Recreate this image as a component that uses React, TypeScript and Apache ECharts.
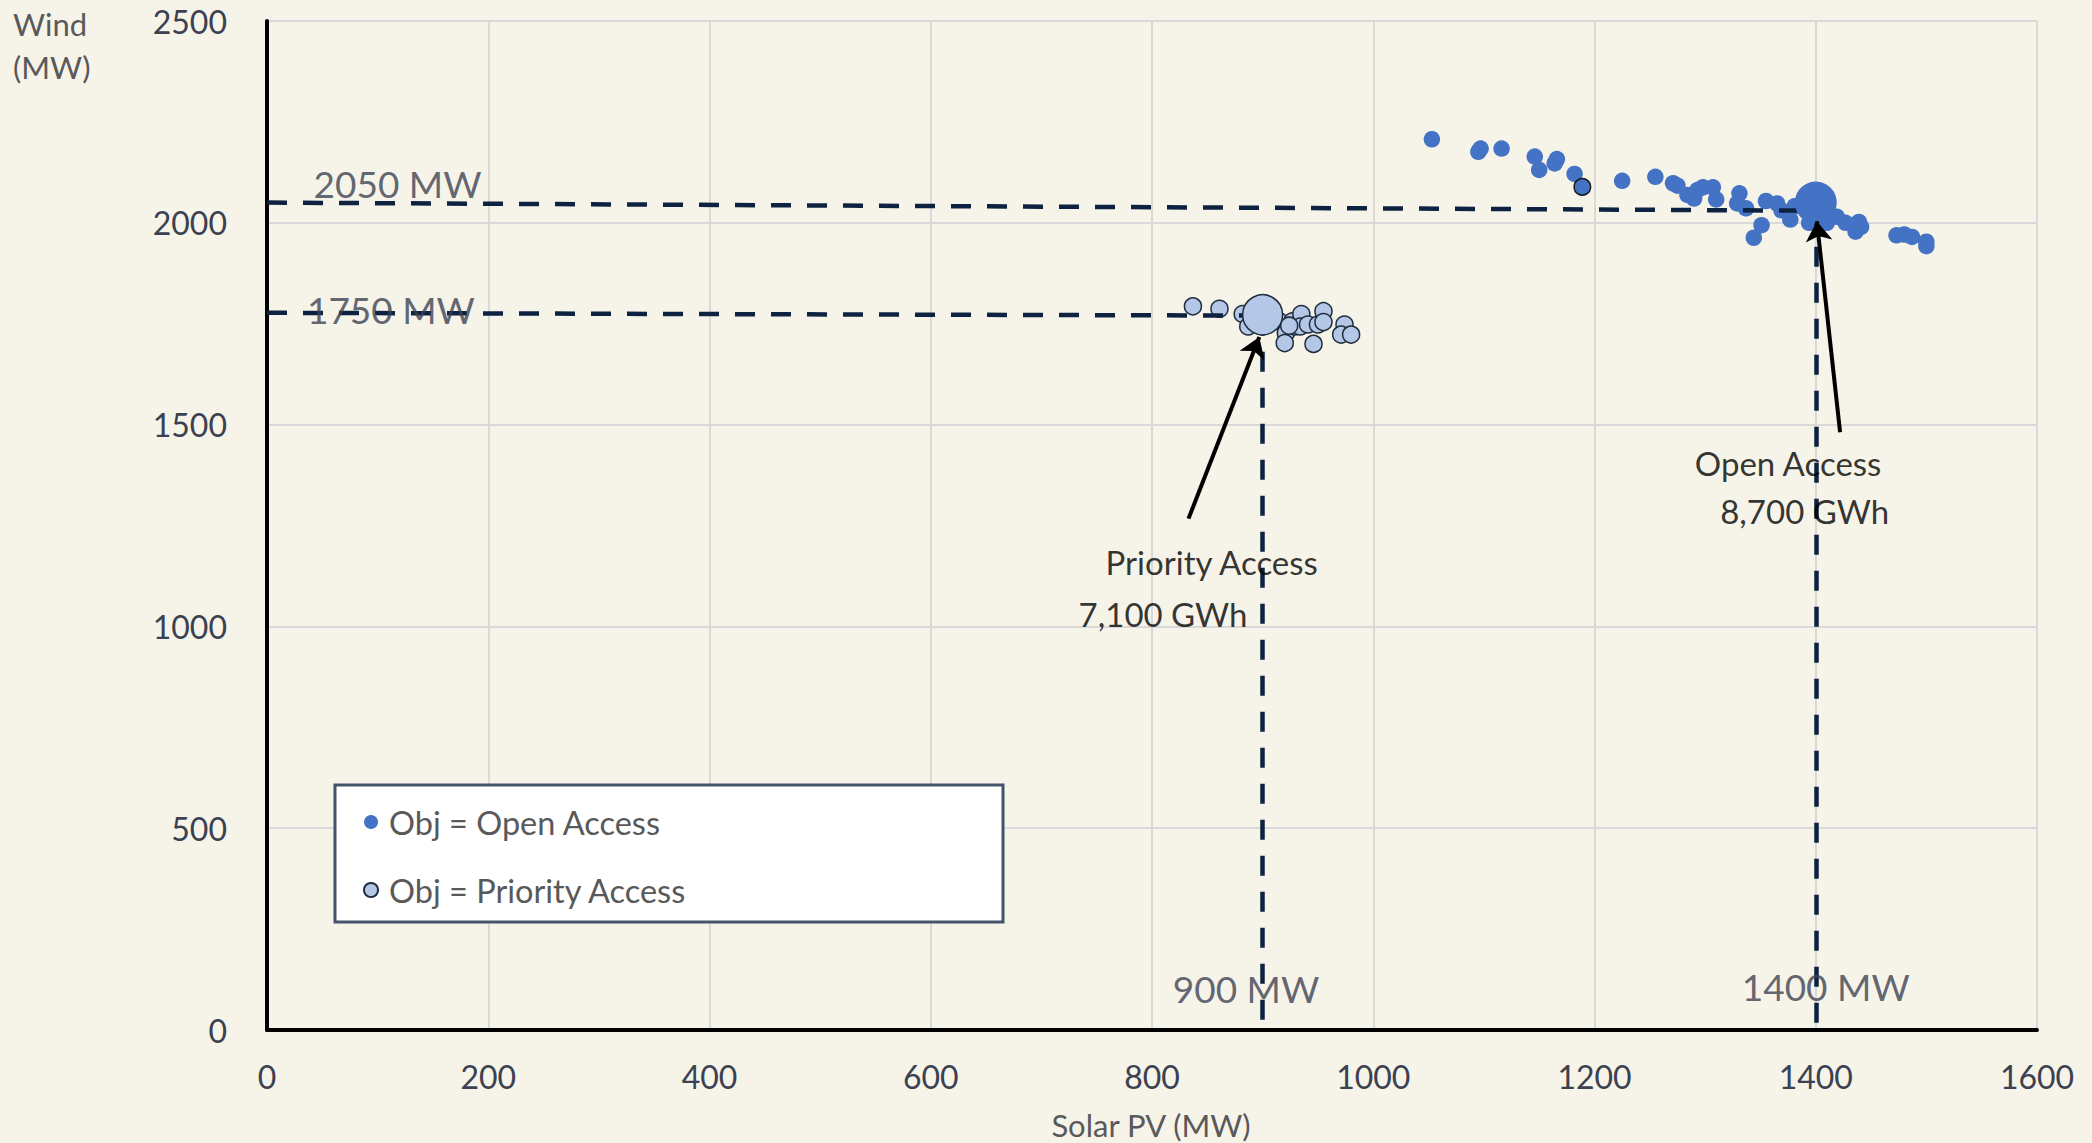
import React, { useEffect, useRef } from "react";
import * as echarts from "echarts";

// ---- Data ----
const openAccessSolar = [1053, 1095, 1097, 1116, 1146, 1150, 1164, 1166, 1182, 1225, 1255, 1271, 1275, 1284, 1290, 1293, 1298, 1307, 1310, 1331, 1329, 1337, 1351, 1344, 1355, 1365, 1369, 1377, 1381, 1394, 1410, 1419, 1427, 1436, 1439, 1441, 1473, 1480, 1487, 1500, 1500];
const openAccessWind = [2207, 2176, 2184, 2184, 2164, 2131, 2147, 2158, 2121, 2104, 2114, 2098, 2092, 2069, 2060, 2081, 2088, 2088, 2058, 2073, 2048, 2036, 1994, 1963, 2054, 2048, 2031, 2008, 2041, 2000, 2000, 2015, 2000, 1978, 2002, 1990, 1969, 1971, 1965, 1953, 1942];
const openAccessHighlighted = [[1189, 2089]];
const openAccessChosen = [[1400, 2050]];

const prioritySolar = [837, 861, 882, 887, 915, 921, 920, 927, 929, 935, 934, 941, 950, 955, 955, 946, 974, 971, 980, 924];
const priorityWind = [1793, 1787, 1774, 1743, 1756, 1727, 1702, 1756, 1743, 1774, 1743, 1748, 1748, 1781, 1754, 1700, 1748, 1723, 1723, 1745];
const priorityChosen = [[900, 1772]];

const refLines = [
  [[0, 2050], [1400, 2030]],
  [[0, 1777], [900, 1770]],
  [[900, 1770], [900, 0]],
  [[1400, 2030], [1400, 0]],
];
const arrows = [
  [[833, 1267], [897, 1717]],
  [[1422, 1481], [1401, 2004]],
];
const mwLabels: [number, number, string][] = [
  [118, 2097, "2050 MW"],
  [112, 1785, "1750 MW"],
  [885, 102, "900 MW"],
  [1409, 107, "1400 MW"],
];
const noteLabels: [number, number, string][] = [
  [854, 1160, "Priority Access"],
  [810, 1031, "7,100 GWh"],
  [1375, 1406, "Open Access"],
  [1390, 1287, "8,700 GWh"],
];

const xMin = 0, xMax = 1600, xStep = 200;
const yMin = 0, yMax = 2500, yStep = 500;

const OPEN = "Obj = Open Access";
const PRIO = "Obj = Priority Access";
const FONT = "Lato, 'Open Sans', sans-serif";

export default function App() {
  const ref = useRef<HTMLDivElement>(null);
  useEffect(() => {
    const chart = echarts.init(ref.current!, null, { renderer: "svg" });
    const openPts = openAccessSolar.map((x, i) => [x, openAccessWind[i]]);
    const prioPts = prioritySolar.map((x, i) => [x, priorityWind[i]]);
    const plain = (v: number) => String(v);
    chart.setOption({
      animation: false,
      backgroundColor: "#F6F3E9",
      textStyle: { fontFamily: FONT },
      grid: { left: 267, right: 55, top: 21, bottom: 113 },
      xAxis: {
        type: "value", min: xMin, max: xMax, interval: xStep,
        axisLine: { show: true, onZero: false, lineStyle: { color: "#000", width: 4 } },
        axisTick: { show: false },
        splitLine: { show: true, lineStyle: { color: "#D9D9D9", width: 2 } },
        axisLabel: { color: "#3B4150", fontSize: 32, margin: 30, fontFamily: FONT, formatter: plain },
      },
      yAxis: {
        type: "value", min: yMin, max: yMax, interval: yStep,
        axisLine: { show: true, onZero: false, lineStyle: { color: "#000", width: 4 } },
        axisTick: { show: false },
        splitLine: { show: true, lineStyle: { color: "#D9D9D9", width: 2 } },
        axisLabel: { color: "#3B4150", fontSize: 32, margin: 40, fontFamily: FONT, formatter: plain },
      },
      legend: {
        orient: "vertical", left: 358, top: 799, z: 10,
        data: [OPEN, PRIO],
        icon: "circle", itemWidth: 14, itemHeight: 14, itemGap: 32,
        textStyle: { color: "#595959", fontSize: 32.5, lineHeight: 36, fontFamily: FONT, padding: [0, 0, 0, 6] },
      },
      graphic: [
        { type: "rect", z: 5, shape: { x: 335, y: 785, width: 668, height: 137 }, style: { fill: "#FFFFFF", stroke: "#44546A", lineWidth: 3 } },
        { type: "text", x: 13, y: 24, style: { text: "Wind", font: `31px ${FONT}`, fill: "#595959", align: "left", verticalAlign: "middle" } },
        { type: "text", x: 13, y: 67, style: { text: "(MW)", font: `31px ${FONT}`, fill: "#595959", align: "left", verticalAlign: "middle" } },
        { type: "text", x: 1151, y: 1125, style: { text: "Solar PV (MW)", font: `31px ${FONT}`, fill: "#595959", align: "center", verticalAlign: "middle" } },
      ],
      series: [
        {
          name: OPEN, type: "scatter", z: 2, data: openPts, symbolSize: 16.5,
          itemStyle: { color: "#4472C4", opacity: 1 },
        },
        {
          name: OPEN, type: "scatter", z: 2, data: openAccessHighlighted, symbolSize: 16.5,
          itemStyle: { color: "#4472C4", borderColor: "#1A1A1A", borderWidth: 1.5, opacity: 1 },
        },
        {
          name: PRIO, type: "scatter", z: 2, data: prioPts, symbolSize: 17,
          itemStyle: { color: "#B4C7E7", borderColor: "#1F2D3D", borderWidth: 1.5, opacity: 1 },
        },
        {
          name: "refLines", type: "lines", coordinateSystem: "cartesian2d", z: 3,
          data: refLines.map((c) => ({ coords: c })),
          symbol: ["none", "none"],
          lineStyle: { color: "#0D2240", width: 4.5, type: [20, 16], opacity: 1, curveness: 0 },
        },
        {
          name: OPEN, type: "scatter", z: 4, data: openAccessChosen, symbolSize: 42,
          itemStyle: { color: "#4472C4", opacity: 1 },
        },
        {
          name: PRIO, type: "scatter", z: 4, data: priorityChosen, symbolSize: 40,
          itemStyle: { color: "#B4C7E7", borderColor: "#1F2D3D", borderWidth: 1.5, opacity: 1 },
        },
        {
          name: "arrows", type: "lines", coordinateSystem: "cartesian2d", z: 6,
          data: arrows.map((c) => ({ coords: c })),
          symbol: ["none", "arrow"], symbolSize: 20,
          lineStyle: { color: "#000000", width: 4, type: "solid", opacity: 1, curveness: 0 },
        },
        {
          name: "mwLabels", type: "scatter", z: 7, data: mwLabels, symbolSize: 1,
          itemStyle: { color: "rgba(0,0,0,0)" },
          label: { show: true, position: "inside", formatter: (p: any) => p.data[2], color: "#3B4150", fontSize: 37, fontFamily: FONT },
        },
        {
          name: "noteLabels", type: "scatter", z: 7, data: noteLabels, symbolSize: 1,
          itemStyle: { color: "rgba(0,0,0,0)" },
          label: { show: true, position: "inside", formatter: (p: any) => p.data[2], color: "#000000", fontSize: 33, fontFamily: FONT },
        },
      ],
    });
    return () => chart.dispose();
  }, []);
  return <div ref={ref} style={{ position: "fixed", left: 0, top: 0, width: 2092, height: 1143 }} />;
}
